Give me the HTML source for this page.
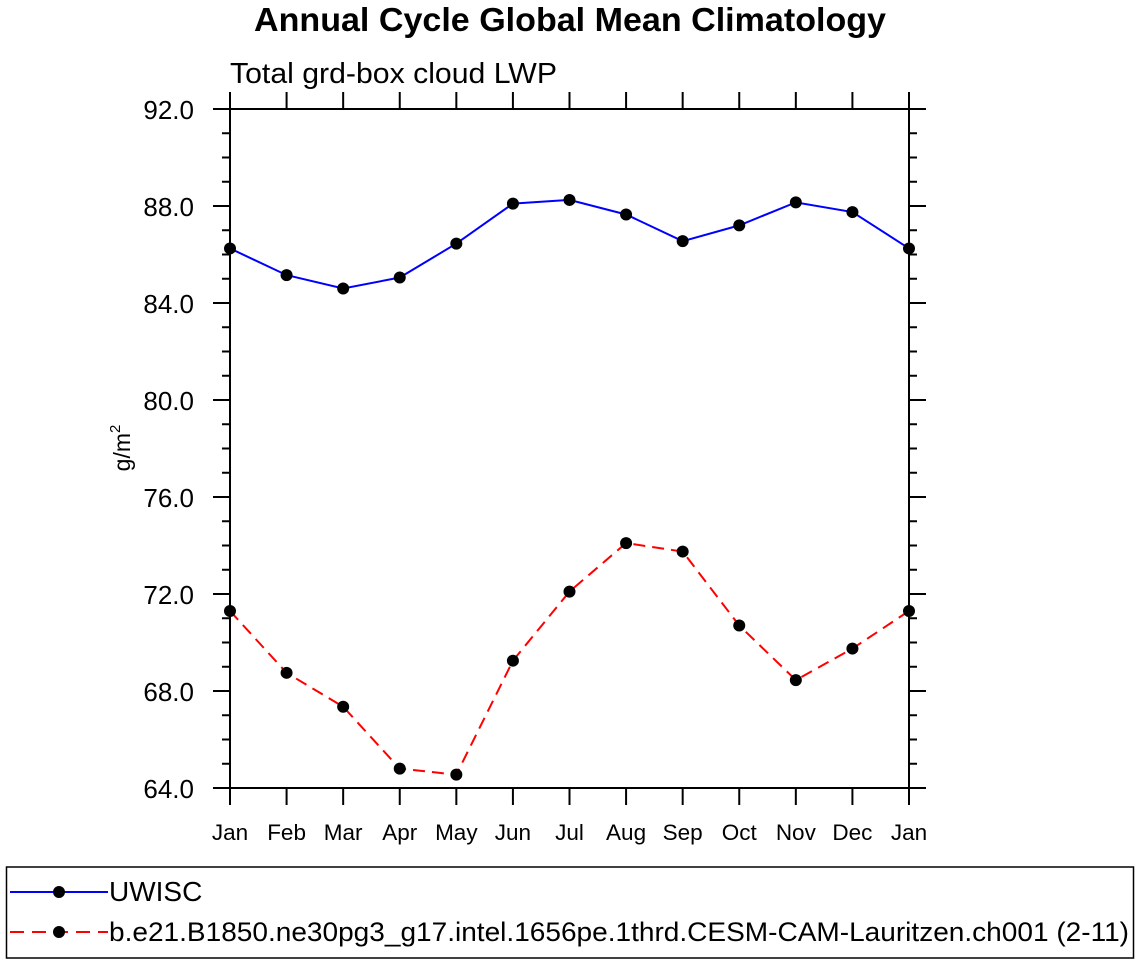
<!DOCTYPE html>
<html><head><meta charset="utf-8"><style>
html,body{margin:0;padding:0;background:#fff;}
svg{display:block;font-family:"Liberation Sans",Helvetica,sans-serif;}
</style></head><body>
<svg id="c" width="1138" height="964" viewBox="0 0 1138 964">
<text x="570" y="31" text-anchor="middle" font-size="33" font-weight="bold" textLength="632" lengthAdjust="spacingAndGlyphs">Annual Cycle Global Mean Climatology</text>
<text x="230" y="83" font-size="29" textLength="327" lengthAdjust="spacingAndGlyphs">Total grd-box cloud LWP</text>
<text transform="translate(130,448) rotate(-90)" text-anchor="middle" font-size="23">g/m<tspan dy="-10" font-size="15">2</tspan></text>
<g id="axes"></g>
<g id="series"></g>
<rect x="6.5" y="867" width="1127" height="91" fill="none" stroke="#000" stroke-width="1.5"/>
<g>
<line x1="10" y1="892" x2="108" y2="892" stroke="#0000ff" stroke-width="2"/>
<circle cx="59" cy="892" r="6" fill="#000"/>
<text x="109" y="901" font-size="28">UWISC</text>
</g>
<g>
<line x1="10" y1="932" x2="108" y2="932" stroke="#ff0000" stroke-width="2" stroke-dasharray="14,8"/>
<circle cx="59" cy="932" r="6" fill="#000"/>
<text x="109" y="941" font-size="27" textLength="1020" lengthAdjust="spacingAndGlyphs">b.e21.B1850.ne30pg3_g17.intel.1656pe.1thrd.CESM-CAM-Lauritzen.ch001 (2-11)</text>
</g>
</svg>
<script>
const months=["Jan","Feb","Mar","Apr","May","Jun","Jul","Aug","Sep","Oct","Nov","Dec","Jan"];
const uwisc=[86.25,85.15,84.6,85.05,86.45,88.1,88.25,87.65,86.55,87.2,88.15,87.75,86.25];
const cesm=[71.3,68.75,67.35,64.8,64.55,69.25,72.1,74.1,73.75,70.7,68.45,69.75,71.3];
const yTicks=[64,68,72,76,80,84,88,92];
const NS="http://www.w3.org/2000/svg";
const L=230,R=909,T=109,B=788,yMin=64,yMax=92;
const xs=i=>L+(R-L)*i/(months.length-1);
const ys=v=>B-(B-T)*(v-yMin)/(yMax-yMin);
function mk(tag,attrs,parent){const e=document.createElementNS(NS,tag);for(const k in attrs)e.setAttribute(k,attrs[k]);parent.appendChild(e);return e;}
const ax=document.getElementById('axes');
const frame=mk('rect',{x:L,y:T,width:R-L,height:B-T,fill:'none',stroke:'#000','stroke-width':2},ax);


for(let v=yMin;v<=yMax;v+=1){
  const major=(v-yMin)%4===0;const len=major?17:8;const y=ys(v);
  mk('line',{x1:L-len,y1:y,x2:L,y2:y,stroke:'#000','stroke-width':2},ax);
  mk('line',{x1:R,y1:y,x2:R+len,y2:y,stroke:'#000','stroke-width':2},ax);
}
yTicks.forEach(v=>{
  const t=mk('text',{x:L-36,y:ys(v)+10,'text-anchor':'end','font-size':26},ax);
  t.textContent=v.toFixed(1);
  
  
});
months.forEach((m,i)=>{
  const x=xs(i);
  mk('line',{x1:x,y1:B,x2:x,y2:B+17,stroke:'#000','stroke-width':2},ax);
  mk('line',{x1:x,y1:T-17,x2:x,y2:T,stroke:'#000','stroke-width':2},ax);
  const t=mk('text',{x:x,y:840,'text-anchor':'middle','font-size':22.5},ax);
  t.textContent=m;
  
  
});
const sg=document.getElementById('series');
function draw(vals,color,dash,name){
  const g=mk('g',{},sg);
  
  
  const pts=vals.map((v,i)=>xs(i)+','+ys(v)).join(' ');
  const attrs={points:pts,fill:'none',stroke:color,'stroke-width':2};
  if(dash)attrs['stroke-dasharray']=dash;
  mk('polyline',attrs,g);
  vals.forEach((v,i)=>{
    const c=mk('circle',{cx:xs(i),cy:ys(v),r:6,fill:'#000'},g);
    
    
  });
}
draw(uwisc,'#0000ff',null,'series-uwisc');
draw(cesm,'#ff0000','12,7','series-cesm');
</script>
</body></html>
